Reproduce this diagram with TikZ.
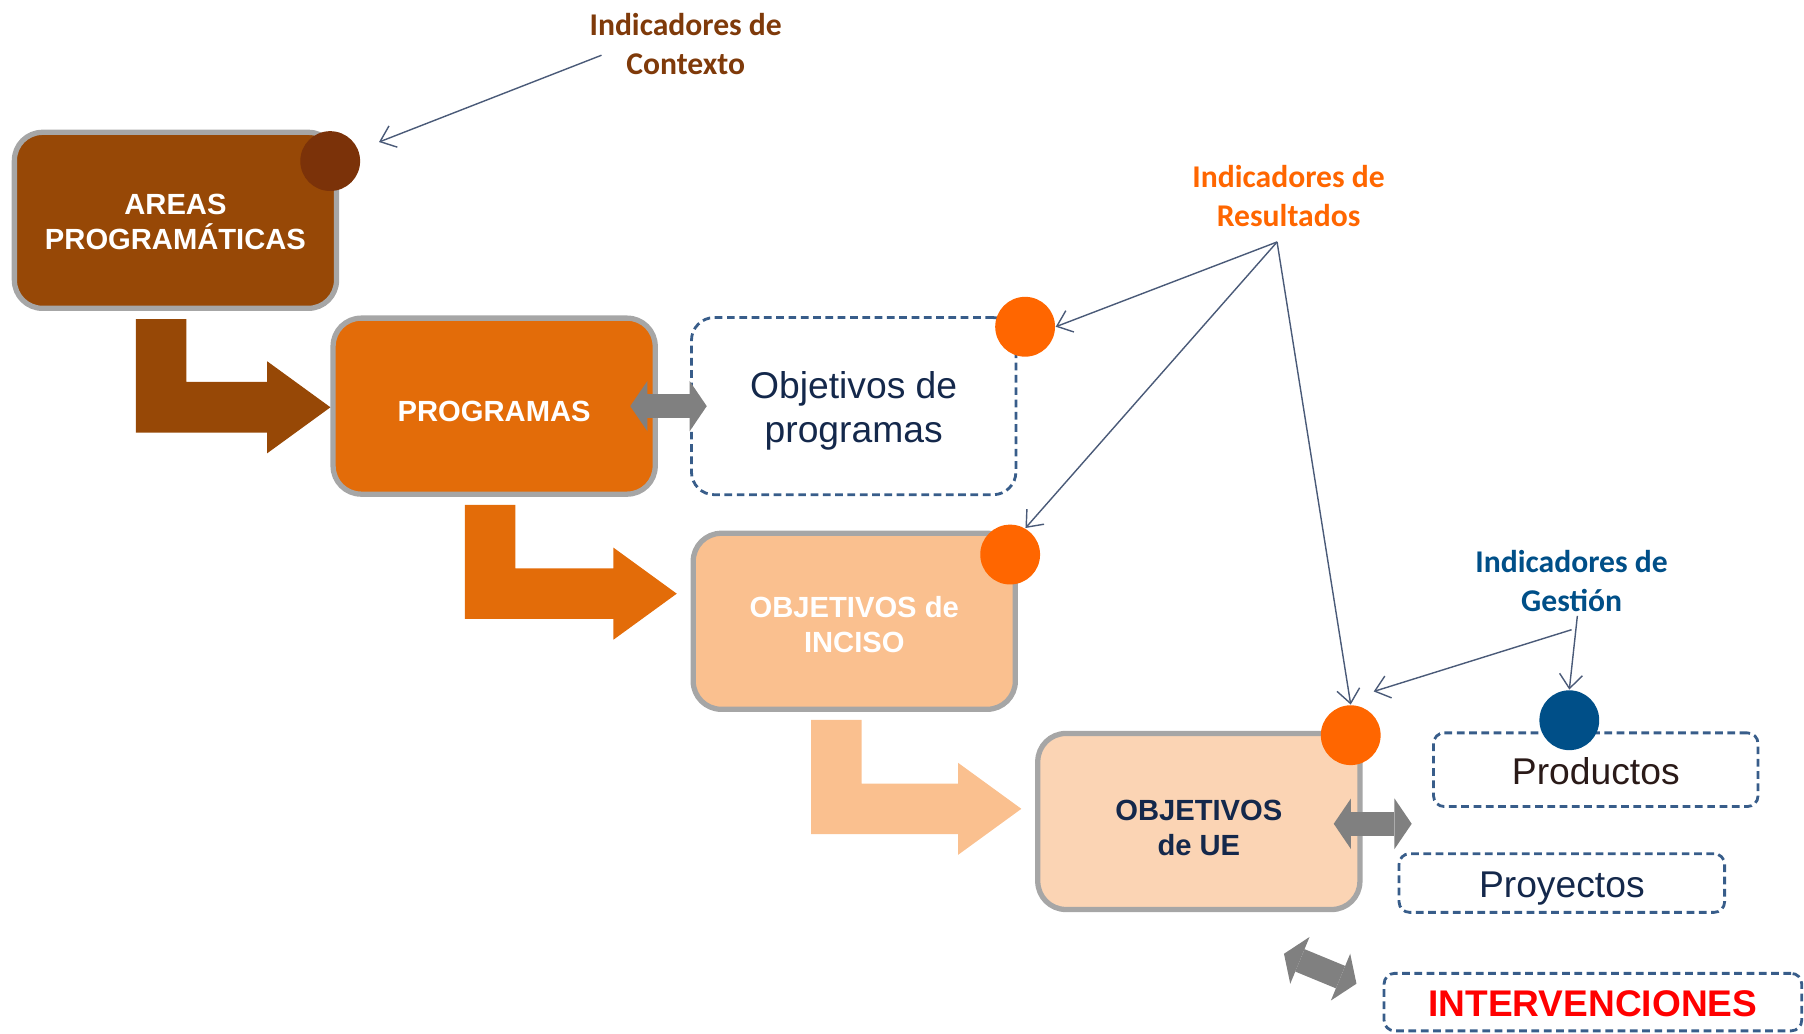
\documentclass[tikz,border=0pt]{standalone}
\usepackage{fontspec}
\setmainfont{Liberation Sans}
\newfontfamily\calibri{Carlito}
\usepackage{xcolor}
\usepackage{tikz}
\usetikzlibrary{calc}
\usetikzlibrary{arrows.meta}
\usetikzlibrary{positioning}

\definecolor{areasbrown}{HTML}{974806}
\definecolor{progorange}{HTML}{E36C09}
\definecolor{incisopeach}{HTML}{FAC08F}
\definecolor{uepeach}{HTML}{FBD4B4}
\definecolor{ctxbrown}{HTML}{7F3A0A}
\definecolor{ctxdot}{HTML}{7B3209}
\definecolor{resorange}{HTML}{FF6600}
\definecolor{gesblue}{HTML}{004F88}
\definecolor{dashblue}{HTML}{385D8A}
\definecolor{navytext}{HTML}{14284B}
\definecolor{prodtext}{HTML}{2A1A18}
\definecolor{boxgray}{HTML}{A6A6A6}
\definecolor{dblgray}{HTML}{808080}
\definecolor{pointer}{HTML}{4A5A78}

\def\px{0.011505cm}

\newcommand{\bentarrow}[5]{%
  \coordinate (tip) at ($(#3.west)+#5$);
  \coordinate (top) at (#4,0 |- #2.south);
  \fill[#1] ($(top)+(0,7)$) -- ($(top)+(44,7)$) -- ($(top |- tip)+(44,-22)$)
    -- ($(tip)+(-55,-22)$) -- ($(tip)+(-55,-40)$) -- (tip) -- ($(tip)+(-55,40)$)
    -- ($(tip)+(-55,22)$) -- ($(top |- tip)+(0,22)$) -- cycle;
}

\begin{document}
\begin{tikzpicture}[x=\px,y=-\px]
    \tikzstyle{every node}=[inner sep=0pt]
    \tikzstyle{stage}=[rectangle,rounded corners=8pt,draw=boxgray,line width=1.5pt,minimum width=280*\px,minimum height=153*\px]
    \tikzstyle{stagetext}=[align=center,font=\fontsize{8.3}{10.1}\selectfont\bfseries]
    \tikzstyle{goalbox}=[rectangle,rounded corners=3pt,draw=dashblue,line width=0.8pt,dash pattern=on 2.2pt off 1.3pt]
    \tikzstyle{goaltext}=[align=center,text=navytext,font=\fontsize{10.6}{12.4}\selectfont]
    \tikzstyle{dot}=[circle,minimum size=52*\px,draw=none]
    \tikzstyle{ind}=[align=center,font=\calibri\bfseries\fontsize{9}{11.1}\selectfont]
    \tikzstyle{ptr}=[draw=pointer,line width=0.4pt,-{Straight Barb[length=4pt,width=6.5pt]}]
    \tikzstyle{dbl}=[draw=dblgray,line width=6.9pt,{Triangle[length=4.9pt,width=14.4pt,line width=0pt]}-{Triangle[length=4.9pt,width=14.4pt,line width=0pt]}]

    \useasboundingbox (0,0) rectangle (1568,898);

    \node[stage,fill=areasbrown,label={[stagetext,text=white,yshift=-0.5pt]center:AREAS\\PROGRAMÁTICAS}] (areas) at (152.5,191.5) {};
    \node[stage,fill=progorange,label={[stagetext,text=white,yshift=-1.6pt]center:PROGRAMAS}] (prog) at (429.5,353) {};
    \node[stage,fill=incisopeach,label={[stagetext,text=white,yshift=-1pt]center:OBJETIVOS de\\INCISO}] (inciso) at (742.5,540) {};
    \node[stage,fill=uepeach,label={[stagetext,text=navytext,yshift=-1.9pt]center:OBJETIVOS\\de UE}] (ue) at (1042,714) {};

    \node[goalbox,rounded corners=6.5pt,minimum width=282*\px,minimum height=154*\px,label={[goaltext,yshift=-1.3pt]center:Objetivos de\\programas}] (objprog) at (742,353) {};
    \node[goalbox,minimum width=282*\px,minimum height=64*\px,label={[goaltext,text=prodtext,yshift=-0.3pt]center:Productos}] (prod) at (1387,669) {};
    \node[goalbox,minimum width=283*\px,minimum height=51*\px,label={[goaltext,yshift=-1.6pt]center:Proyectos}] (proy) at (1357.5,767.5) {};
    \node[goalbox,minimum width=363*\px,minimum height=50*\px,label={[goaltext,text=red,font=\fontsize{10.55}{12}\selectfont\bfseries,yshift=-0.6pt]center:INTERVENCIONES}] (interv) at (1384.5,871) {};

    \bentarrow{areasbrown}{areas}{prog}{118}{(0,1)}
    \bentarrow{progorange}{prog}{inciso}{404}{(-12,-24)}
    \bentarrow{incisopeach}{inciso}{ue}{705}{(-12,-11)}

    \draw[dbl,shorten <=-7.85pt,shorten >=-4.75pt] (prog.east) -- (objprog.west);
    \coordinate (ppgap) at (1227,716);
    \draw[dbl,shorten <=-8.2pt] (ue.east |- ppgap) -- (ppgap);
    \coordinate (dgA) at (1116,829);
    \coordinate (dgB) at (1179,855);
    \draw[dbl] (dgA) -- (dgB);

    \node[dot,fill=ctxdot] (dotA) at (287,140) {};
    \node[dot,fill=resorange] (dotR1) at (891,284) {};
    \node[dot,fill=resorange] (dotR2) at (878,482) {};
    \node[dot,fill=resorange] (dotR3) at (1174,639) {};
    \node[dot,fill=gesblue] (dotG) at (1364,626) {};

    \node[ind,text=ctxbrown] (ctx) at (596,38) {Indicadores de\\Contexto};
    \node[ind,text=resorange] (res) at (1120,170) {Indicadores de\\Resultados};
    \node[ind,text=gesblue] (ges) at (1366,505) {Indicadores de\\Gestión};

    \draw[ptr,shorten >=6.2pt] ($(ctx.west)+(11,10)$) -- (dotA);
    \coordinate (resfoot) at ($(res.south)+(-10,13)$);
    \draw[ptr] (resfoot) -- (dotR1.east);
    \draw[ptr] (resfoot) -- (dotR2.60);
    \draw[ptr] (resfoot) -- (dotR3.north);
    \draw[ptr] ($(ges.south)+(0,15)$) -- ($(dotR3.center)+(20,-38)$);
    \draw[ptr] ($(ges.south)+(5,3)$) -- (dotG.north);

\end{tikzpicture}
\end{document}
